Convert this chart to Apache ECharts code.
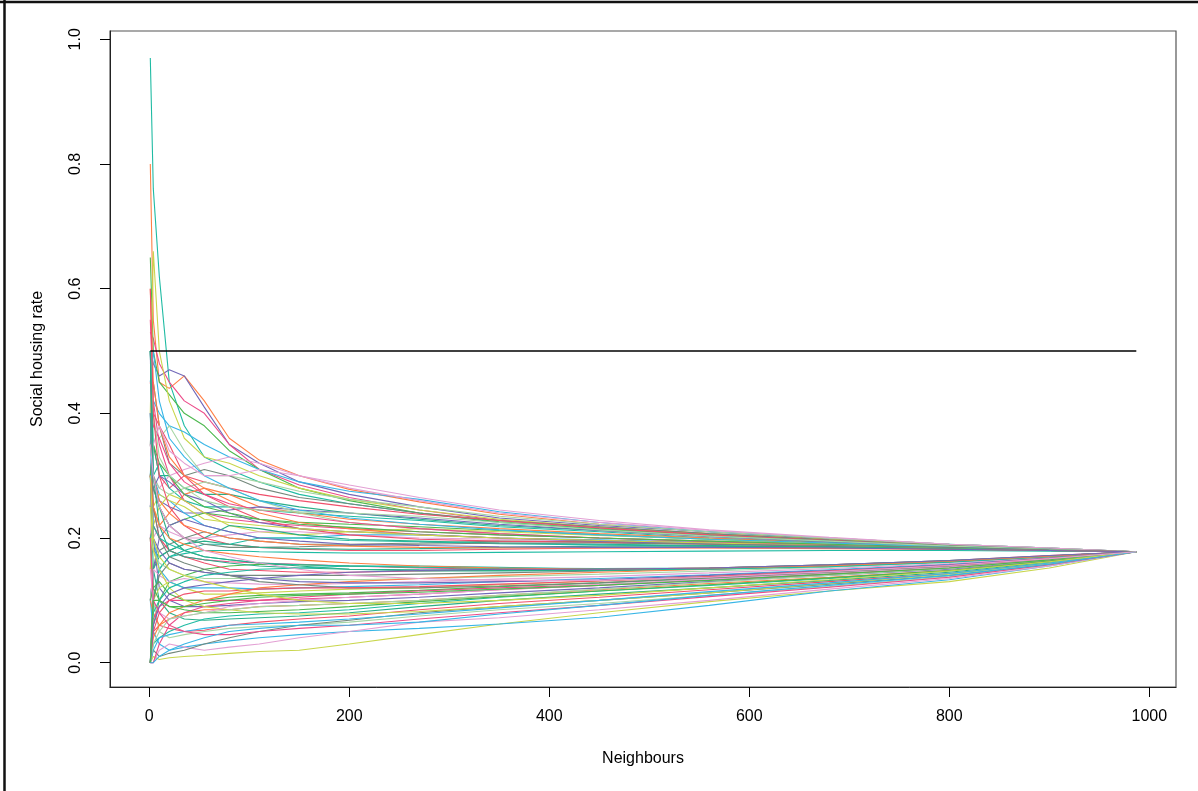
<!DOCTYPE html>
<html lang="en">
<head>
<meta charset="UTF-8">
<title>Social housing rate</title>
<style>
    body{
        margin: 0;
        background-color: #fff;
    }
    #chart{
        width: 1198px;
        height: 791px;
    }
</style>
<script src="https://cdn.jsdelivr.net/npm/echarts@6/dist/echarts.min.js"></script>
</head>
<body>
<div id="chart"></div>
<script type="text/javascript">
var neighbours = [1, 4, 10, 20, 35, 55, 80, 110, 150, 200, 270, 350, 450, 560, 680, 800, 900, 987];

// curves that come down to the final rate from above
var upperRates = [
    [0.97, 0.76, 0.62, 0.45, 0.38, 0.33, 0.31, 0.29, 0.27, 0.255, 0.24, 0.225, 0.215, 0.205, 0.198, 0.19, 0.184, 0.178],
    [0.80, 0.55, 0.45, 0.44, 0.46, 0.42, 0.36, 0.325, 0.30, 0.278, 0.258, 0.238, 0.222, 0.21, 0.2, 0.19, 0.184, 0.178],
    [0.50, 0.48, 0.46, 0.47, 0.46, 0.41, 0.35, 0.32, 0.29, 0.27, 0.25, 0.232, 0.22, 0.21, 0.198, 0.188, 0.183, 0.178],
    [0.53, 0.52, 0.48, 0.45, 0.42, 0.40, 0.35, 0.31, 0.285, 0.265, 0.245, 0.228, 0.217, 0.207, 0.197, 0.188, 0.183, 0.178],
    [0.65, 0.50, 0.45, 0.43, 0.40, 0.38, 0.34, 0.31, 0.28, 0.26, 0.24, 0.226, 0.214, 0.205, 0.196, 0.188, 0.182, 0.178],
    [0.40, 0.66, 0.50, 0.42, 0.36, 0.33, 0.32, 0.30, 0.28, 0.262, 0.245, 0.23, 0.218, 0.207, 0.198, 0.189, 0.183, 0.178],
    [0.30, 0.42, 0.40, 0.38, 0.37, 0.35, 0.33, 0.31, 0.29, 0.275, 0.262, 0.242, 0.225, 0.21, 0.2, 0.19, 0.184, 0.178],
    [0.20, 0.30, 0.28, 0.30, 0.31, 0.32, 0.33, 0.32, 0.30, 0.28, 0.26, 0.24, 0.225, 0.212, 0.2, 0.19, 0.184, 0.178],
    [0.50, 0.38, 0.36, 0.38, 0.34, 0.30, 0.30, 0.29, 0.275, 0.262, 0.25, 0.235, 0.222, 0.21, 0.2, 0.19, 0.184, 0.178],
    [0.35, 0.45, 0.38, 0.32, 0.30, 0.31, 0.30, 0.28, 0.265, 0.255, 0.24, 0.228, 0.218, 0.207, 0.197, 0.188, 0.183, 0.178],
    [0.30, 0.35, 0.30, 0.28, 0.30, 0.29, 0.28, 0.27, 0.26, 0.25, 0.238, 0.228, 0.216, 0.205, 0.196, 0.187, 0.182, 0.178],
    [0.50, 0.35, 0.30, 0.30, 0.28, 0.27, 0.27, 0.26, 0.25, 0.24, 0.23, 0.22, 0.212, 0.203, 0.195, 0.187, 0.182, 0.178],
    [0.25, 0.30, 0.32, 0.28, 0.26, 0.25, 0.25, 0.245, 0.24, 0.235, 0.228, 0.218, 0.21, 0.2, 0.193, 0.186, 0.182, 0.178],
    [0.30, 0.25, 0.22, 0.24, 0.27, 0.28, 0.27, 0.25, 0.24, 0.23, 0.222, 0.215, 0.207, 0.2, 0.192, 0.186, 0.181, 0.178],
    [0.40, 0.30, 0.26, 0.25, 0.24, 0.24, 0.245, 0.25, 0.245, 0.24, 0.232, 0.222, 0.212, 0.202, 0.194, 0.186, 0.181, 0.178],
    [0.55, 0.42, 0.35, 0.30, 0.26, 0.24, 0.23, 0.225, 0.22, 0.215, 0.21, 0.205, 0.2, 0.195, 0.19, 0.185, 0.181, 0.178],
    [0.30, 0.28, 0.25, 0.22, 0.23, 0.24, 0.235, 0.23, 0.225, 0.222, 0.218, 0.212, 0.205, 0.198, 0.191, 0.185, 0.181, 0.178],
    [0.20, 0.22, 0.25, 0.27, 0.26, 0.24, 0.22, 0.21, 0.205, 0.21, 0.215, 0.21, 0.204, 0.198, 0.191, 0.185, 0.181, 0.178],
    [0.35, 0.30, 0.27, 0.26, 0.24, 0.22, 0.21, 0.20, 0.20, 0.205, 0.205, 0.20, 0.197, 0.193, 0.189, 0.184, 0.18, 0.178],
    [0.15, 0.20, 0.22, 0.21, 0.20, 0.20, 0.205, 0.21, 0.21, 0.205, 0.20, 0.198, 0.195, 0.192, 0.188, 0.184, 0.18, 0.178],
    [0.25, 0.30, 0.28, 0.27, 0.28, 0.29, 0.28, 0.26, 0.24, 0.225, 0.215, 0.207, 0.20, 0.195, 0.19, 0.185, 0.181, 0.178],
    [0.10, 0.15, 0.18, 0.19, 0.20, 0.21, 0.20, 0.195, 0.19, 0.19, 0.192, 0.195, 0.194, 0.191, 0.188, 0.184, 0.18, 0.178],
    [0.45, 0.40, 0.38, 0.35, 0.30, 0.27, 0.25, 0.23, 0.215, 0.205, 0.198, 0.195, 0.193, 0.19, 0.187, 0.183, 0.18, 0.178],
    [0.20, 0.18, 0.17, 0.18, 0.19, 0.20, 0.22, 0.215, 0.205, 0.198, 0.195, 0.192, 0.19, 0.188, 0.186, 0.183, 0.18, 0.178],
    [0.00, 0.10, 0.15, 0.17, 0.18, 0.19, 0.19, 0.20, 0.20, 0.196, 0.194, 0.191, 0.189, 0.187, 0.185, 0.182, 0.18, 0.178],
    [0.60, 0.45, 0.38, 0.33, 0.30, 0.28, 0.26, 0.24, 0.225, 0.215, 0.205, 0.20, 0.196, 0.192, 0.188, 0.184, 0.18, 0.178],
    [0.25, 0.28, 0.30, 0.29, 0.27, 0.26, 0.24, 0.225, 0.215, 0.21, 0.206, 0.20, 0.195, 0.191, 0.187, 0.183, 0.18, 0.178],
    [0.40, 0.38, 0.36, 0.32, 0.29, 0.27, 0.255, 0.245, 0.235, 0.225, 0.215, 0.207, 0.20, 0.194, 0.189, 0.184, 0.18, 0.178],
    [0.30, 0.35, 0.32, 0.30, 0.27, 0.25, 0.24, 0.23, 0.222, 0.217, 0.21, 0.205, 0.20, 0.195, 0.19, 0.185, 0.181, 0.178],
    [0.15, 0.25, 0.27, 0.26, 0.25, 0.23, 0.225, 0.22, 0.215, 0.21, 0.205, 0.20, 0.196, 0.192, 0.188, 0.184, 0.18, 0.178],
    [0.45, 0.50, 0.42, 0.36, 0.33, 0.30, 0.28, 0.26, 0.245, 0.232, 0.222, 0.213, 0.205, 0.198, 0.192, 0.186, 0.181, 0.178],
    [0.25, 0.35, 0.38, 0.34, 0.32, 0.30, 0.30, 0.31, 0.30, 0.285, 0.265, 0.245, 0.228, 0.213, 0.201, 0.19, 0.184, 0.178],
    [0.50, 0.40, 0.33, 0.30, 0.28, 0.26, 0.25, 0.245, 0.242, 0.24, 0.235, 0.225, 0.213, 0.203, 0.195, 0.187, 0.182, 0.178]
];

// curves that stay close to the final rate
var middleRates = [
    [0.30, 0.28, 0.25, 0.22, 0.20, 0.19, 0.185, 0.185, 0.186, 0.188, 0.19, 0.192, 0.192, 0.19, 0.188, 0.185, 0.181, 0.178],
    [0.60, 0.40, 0.30, 0.25, 0.22, 0.20, 0.19, 0.185, 0.182, 0.18, 0.18, 0.182, 0.184, 0.185, 0.184, 0.182, 0.18, 0.178],
    [0.10, 0.15, 0.17, 0.18, 0.19, 0.195, 0.19, 0.185, 0.183, 0.182, 0.183, 0.185, 0.187, 0.187, 0.186, 0.183, 0.18, 0.178],
    [0.00, 0.10, 0.15, 0.17, 0.175, 0.18, 0.18, 0.178, 0.177, 0.176, 0.176, 0.177, 0.178, 0.179, 0.18, 0.18, 0.179, 0.178],
    [0.35, 0.30, 0.26, 0.24, 0.22, 0.21, 0.20, 0.195, 0.19, 0.187, 0.185, 0.184, 0.184, 0.184, 0.183, 0.182, 0.18, 0.178],
    [0.00, 0.15, 0.20, 0.22, 0.23, 0.22, 0.21, 0.20, 0.195, 0.19, 0.188, 0.186, 0.185, 0.185, 0.184, 0.182, 0.18, 0.178],
    [0.20, 0.22, 0.20, 0.18, 0.17, 0.165, 0.162, 0.16, 0.158, 0.155, 0.152, 0.15, 0.15, 0.15, 0.157, 0.163, 0.168, 0.178],
    [0.00, 0.06, 0.10, 0.13, 0.14, 0.15, 0.155, 0.158, 0.157, 0.155, 0.153, 0.151, 0.15, 0.151, 0.155, 0.162, 0.17, 0.178]
];

// curves that climb to the final rate from below
var lowerRates = [
    [0.00, 0.01, 0.005, 0.008, 0.01, 0.012, 0.015, 0.018, 0.02, 0.03, 0.045, 0.062, 0.08, 0.098, 0.115, 0.13, 0.152, 0.178],
    [0.10, 0.05, 0.03, 0.02, 0.025, 0.03, 0.035, 0.04, 0.045, 0.05, 0.055, 0.062, 0.073, 0.092, 0.115, 0.133, 0.155, 0.178],
    [0.00, 0.00, 0.02, 0.03, 0.025, 0.02, 0.025, 0.03, 0.04, 0.05, 0.065, 0.072, 0.085, 0.10, 0.118, 0.135, 0.155, 0.178],
    [0.20, 0.10, 0.05, 0.04, 0.045, 0.05, 0.055, 0.058, 0.06, 0.065, 0.075, 0.085, 0.095, 0.108, 0.122, 0.138, 0.157, 0.178],
    [0.00, 0.02, 0.01, 0.015, 0.02, 0.03, 0.04, 0.05, 0.06, 0.068, 0.08, 0.09, 0.10, 0.112, 0.126, 0.14, 0.158, 0.178],
    [0.00, 0.05, 0.06, 0.055, 0.05, 0.052, 0.06, 0.065, 0.07, 0.075, 0.085, 0.095, 0.105, 0.117, 0.13, 0.143, 0.16, 0.178],
    [0.30, 0.15, 0.10, 0.08, 0.07, 0.068, 0.07, 0.072, 0.075, 0.08, 0.09, 0.10, 0.11, 0.12, 0.132, 0.145, 0.161, 0.178],
    [0.00, 0.03, 0.04, 0.05, 0.06, 0.07, 0.075, 0.078, 0.08, 0.085, 0.095, 0.105, 0.115, 0.124, 0.135, 0.147, 0.162, 0.178],
    [0.10, 0.08, 0.06, 0.07, 0.08, 0.085, 0.085, 0.09, 0.092, 0.095, 0.10, 0.108, 0.117, 0.127, 0.137, 0.148, 0.163, 0.178],
    [0.50, 0.20, 0.12, 0.10, 0.09, 0.09, 0.092, 0.095, 0.098, 0.10, 0.105, 0.112, 0.12, 0.13, 0.14, 0.15, 0.164, 0.178],
    [0.00, 0.07, 0.09, 0.10, 0.10, 0.10, 0.10, 0.10, 0.102, 0.105, 0.11, 0.117, 0.124, 0.133, 0.142, 0.152, 0.165, 0.178],
    [0.20, 0.12, 0.13, 0.11, 0.10, 0.10, 0.105, 0.108, 0.11, 0.112, 0.116, 0.122, 0.128, 0.136, 0.145, 0.154, 0.166, 0.178],
    [0.00, 0.10, 0.12, 0.13, 0.12, 0.11, 0.11, 0.112, 0.115, 0.118, 0.12, 0.125, 0.131, 0.138, 0.147, 0.156, 0.167, 0.178],
    [0.40, 0.20, 0.15, 0.13, 0.12, 0.12, 0.12, 0.118, 0.12, 0.122, 0.125, 0.13, 0.135, 0.141, 0.149, 0.158, 0.168, 0.178],
    [0.10, 0.15, 0.14, 0.13, 0.135, 0.13, 0.128, 0.126, 0.125, 0.127, 0.13, 0.134, 0.138, 0.144, 0.151, 0.159, 0.169, 0.178],
    [0.20, 0.18, 0.16, 0.15, 0.14, 0.135, 0.135, 0.135, 0.134, 0.133, 0.135, 0.138, 0.142, 0.147, 0.153, 0.161, 0.17, 0.178],
    [0.00, 0.10, 0.14, 0.16, 0.15, 0.145, 0.14, 0.14, 0.14, 0.14, 0.142, 0.144, 0.147, 0.151, 0.156, 0.163, 0.171, 0.178],
    [0.30, 0.25, 0.20, 0.18, 0.17, 0.16, 0.15, 0.148, 0.145, 0.145, 0.147, 0.149, 0.15, 0.152, 0.157, 0.164, 0.172, 0.178],
    [0.50, 0.30, 0.22, 0.18, 0.17, 0.165, 0.16, 0.155, 0.152, 0.15, 0.149, 0.148, 0.148, 0.15, 0.155, 0.162, 0.171, 0.178],
    [0.20, 0.22, 0.20, 0.19, 0.18, 0.17, 0.165, 0.16, 0.157, 0.155, 0.153, 0.152, 0.151, 0.152, 0.156, 0.163, 0.171, 0.178],
    [0.00, 0.04, 0.06, 0.08, 0.09, 0.10, 0.11, 0.12, 0.125, 0.13, 0.135, 0.14, 0.145, 0.15, 0.155, 0.162, 0.17, 0.178],
    [0.30, 0.20, 0.18, 0.16, 0.15, 0.145, 0.14, 0.135, 0.13, 0.128, 0.128, 0.13, 0.133, 0.14, 0.148, 0.157, 0.168, 0.178],
    [0.00, 0.00, 0.03, 0.06, 0.08, 0.09, 0.095, 0.10, 0.105, 0.11, 0.115, 0.12, 0.125, 0.133, 0.142, 0.152, 0.165, 0.178],
    [0.10, 0.12, 0.10, 0.09, 0.085, 0.08, 0.08, 0.082, 0.085, 0.09, 0.098, 0.106, 0.115, 0.125, 0.136, 0.148, 0.163, 0.178],
    [0.25, 0.18, 0.15, 0.12, 0.10, 0.09, 0.085, 0.08, 0.078, 0.078, 0.082, 0.09, 0.10, 0.112, 0.127, 0.142, 0.16, 0.178],
    [0.00, 0.02, 0.04, 0.045, 0.05, 0.055, 0.06, 0.062, 0.065, 0.07, 0.078, 0.088, 0.10, 0.114, 0.128, 0.143, 0.16, 0.178],
    [0.15, 0.10, 0.08, 0.07, 0.075, 0.08, 0.09, 0.095, 0.10, 0.105, 0.11, 0.117, 0.125, 0.134, 0.144, 0.154, 0.166, 0.178],
    [0.00, 0.03, 0.05, 0.07, 0.075, 0.08, 0.085, 0.09, 0.092, 0.095, 0.10, 0.108, 0.118, 0.129, 0.14, 0.151, 0.165, 0.178],
    [0.40, 0.25, 0.20, 0.17, 0.16, 0.15, 0.14, 0.13, 0.125, 0.12, 0.12, 0.123, 0.128, 0.136, 0.145, 0.155, 0.167, 0.178],
    [0.00, 0.05, 0.08, 0.10, 0.11, 0.115, 0.115, 0.118, 0.12, 0.12, 0.122, 0.126, 0.131, 0.138, 0.147, 0.156, 0.167, 0.178],
    [0.50, 0.30, 0.25, 0.20, 0.18, 0.17, 0.165, 0.16, 0.155, 0.15, 0.147, 0.147, 0.148, 0.152, 0.157, 0.164, 0.171, 0.178],
    [0.00, 0.08, 0.10, 0.12, 0.13, 0.14, 0.145, 0.15, 0.152, 0.155, 0.155, 0.153, 0.15, 0.15, 0.154, 0.161, 0.17, 0.178],
    [0.30, 0.25, 0.22, 0.20, 0.19, 0.18, 0.175, 0.17, 0.165, 0.16, 0.155, 0.152, 0.15, 0.152, 0.156, 0.163, 0.171, 0.178],
    [0.00, 0.06, 0.09, 0.11, 0.12, 0.125, 0.13, 0.135, 0.14, 0.145, 0.148, 0.15, 0.15, 0.152, 0.157, 0.164, 0.172, 0.178],
    [0.20, 0.10, 0.08, 0.06, 0.05, 0.045, 0.045, 0.05, 0.055, 0.06, 0.07, 0.08, 0.092, 0.106, 0.121, 0.137, 0.157, 0.178],
    [0.00, 0.10, 0.10, 0.09, 0.09, 0.095, 0.10, 0.105, 0.108, 0.11, 0.113, 0.118, 0.124, 0.132, 0.142, 0.152, 0.165, 0.178],
    [0.30, 0.20, 0.17, 0.15, 0.14, 0.13, 0.12, 0.11, 0.10, 0.095, 0.095, 0.10, 0.108, 0.12, 0.133, 0.147, 0.162, 0.178],
    [0.00, 0.00, 0.01, 0.02, 0.03, 0.04, 0.05, 0.055, 0.06, 0.06, 0.065, 0.078, 0.092, 0.108, 0.124, 0.14, 0.158, 0.178],
    [0.35, 0.30, 0.25, 0.22, 0.20, 0.18, 0.17, 0.16, 0.15, 0.14, 0.135, 0.132, 0.132, 0.137, 0.146, 0.156, 0.167, 0.178]
];

// reference line at one half
var refNeighbours = [1, 987];
var refRate = [0.5, 0.5];

var xTicks = [0, 200, 400, 600, 800, 1000];
var yTicks = [0, 0.2, 0.4, 0.6, 0.8, 1.0];

var palette = ['#1fbba3', '#ff7f45', '#7268b8', '#ec4c8a', '#4cb84e', '#c9d64c',
               '#38b6e6', '#e3a0d4', '#a6d6a4', '#74887c', '#f0506c', '#2aae88'];

var allRates = upperRates.concat(middleRates, lowerRates);
var series = [];
for (var i = 0; i < allRates.length; i++) {
    var pts = [];
    for (var j = 0; j < neighbours.length; j++) {
        pts.push([neighbours[j], allRates[i][j]]);
    }
    series.push({
        type: 'line',
        data: pts,
        showSymbol: false,
        symbol: 'none',
        silent: true,
        lineStyle: {width: 1.1, color: palette[i % palette.length]}
    });
}
series.push({
    type: 'line',
    data: [[refNeighbours[0], refRate[0]], [refNeighbours[1], refRate[1]]],
    symbol: 'none',
    silent: true,
    lineStyle: {width: 1.5, color: '#000'}
});

var font = 'Liberation Sans, Arial, sans-serif';
var option = {
    animation: false,
    grid: {
        left: 110, right: 22, top: 31, bottom: 104,
        show: true, borderColor: '#555', borderWidth: 1.2
    },
    xAxis: {
        type: 'value',
        min: -39.3, max: 1026.7,
        splitLine: {show: false},
        axisLine: {show: true, onZero: false, lineStyle: {color: '#222', width: 1}},
        axisTick: {show: true, customValues: xTicks, length: 10, lineStyle: {color: '#000'}},
        axisLabel: {
            customValues: xTicks, margin: 22, fontSize: 16, color: '#000', fontFamily: font,
            formatter: function (v) { return String(v); }
        },
        name: 'Neighbours',
        nameLocation: 'middle',
        nameGap: 64,
        nameTextStyle: {fontSize: 16, color: '#000', fontFamily: font}
    },
    yAxis: {
        type: 'value',
        min: -0.039, max: 1.0133,
        splitLine: {show: false},
        axisLine: {show: true, onZero: false, lineStyle: {color: '#222', width: 1}},
        axisTick: {show: true, customValues: yTicks, length: 10, lineStyle: {color: '#000'}},
        axisLabel: {
            customValues: yTicks, rotate: 90, margin: 26, fontSize: 16, color: '#000', fontFamily: font,
            formatter: function (v) { return v.toFixed(1); }
        },
        name: 'Social housing rate',
        nameLocation: 'middle',
        nameRotate: 90,
        nameGap: 64,
        nameTextStyle: {fontSize: 16, color: '#000', fontFamily: font}
    },
    graphic: [
        {type: 'line', shape: {x1: 0, y1: 2, x2: 1198, y2: 2}, style: {stroke: '#111', lineWidth: 2.5}},
        {type: 'line', shape: {x1: 4.5, y1: 0, x2: 4.5, y2: 791}, style: {stroke: '#111', lineWidth: 2.5}}
    ],
    series: series
};

var chart = echarts.init(document.getElementById('chart'));
chart.setOption(option);
</script>
</body>
</html>
